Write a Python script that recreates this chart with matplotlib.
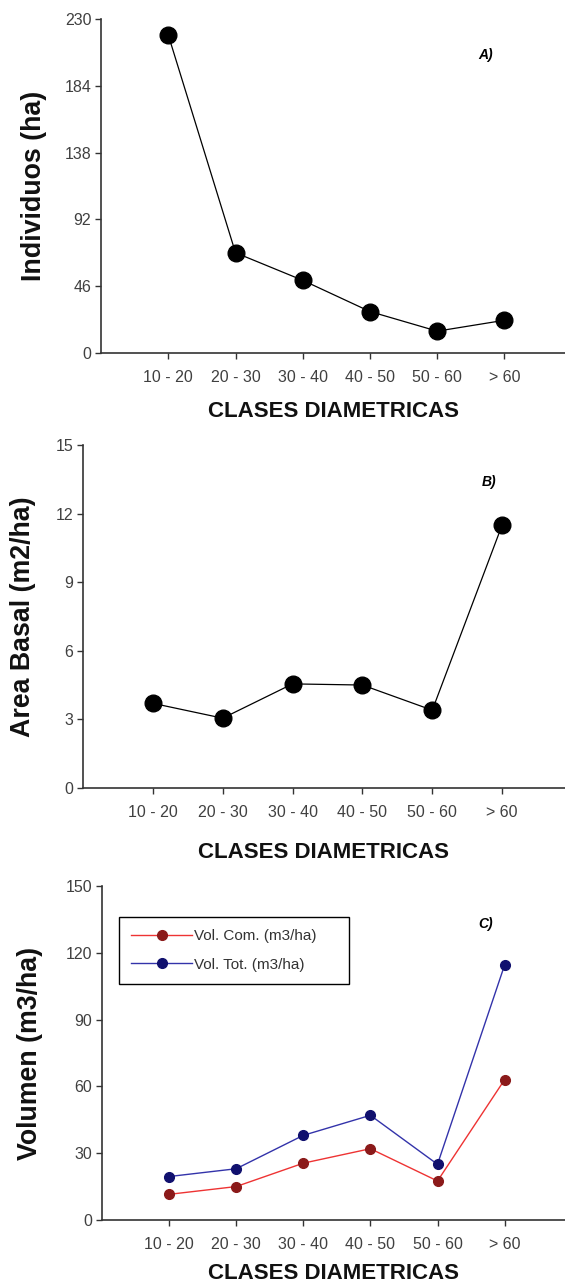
import matplotlib
matplotlib.use('Agg')
import matplotlib.pyplot as plt
import numpy as np

plt.rcParams['font.family'] = ['Liberation Sans', 'DejaVu Sans']

clases = ['10 - 20', '20 - 30', '30 - 40', '40 - 50', '50 - 60', '> 60']
individuos = [219, 69, 50, 28.5, 15, 22.5]
area_basal = [3.7, 3.05, 4.55, 4.5, 3.4, 11.5]
vol_com = [11.5, 15, 25.5, 32, 17.5, 63]
vol_tot = [19.5, 23, 38, 47, 25, 114.5]

ticks_a = [0, 46, 92, 138, 184, 230]
ticks_b = [0, 3, 6, 9, 12, 15]
ticks_c = [0, 30, 60, 90, 120, 150]

x = np.arange(1, len(clases) + 1)
axis_col = '#333333'
tick_col = '#404040'

fig = plt.figure(figsize=(5.65, 12.82), dpi=100)
ax_a = fig.add_axes([0.1788, 0.7247, 0.8212, 0.2605])
ax_b = fig.add_axes([0.1469, 0.3854, 0.8531, 0.2675])
ax_c = fig.add_axes([0.1805, 0.0484, 0.8195, 0.2605])


def style(ax, yticks, ylabel, label_x, xpad):
    ax.set_xlim(0, 6.9)
    ax.set_ylim(yticks[0], yticks[-1])
    ax.set_yticks(yticks)
    ax.set_xticks(x)
    ax.set_xticklabels(clases)
    for s in ['top', 'right']:
        ax.spines[s].set_visible(False)
    for s in ['left', 'bottom']:
        ax.spines[s].set_color(axis_col)
        ax.spines[s].set_linewidth(1.2)
    ax.tick_params(axis='both', direction='out', length=4, width=1, color=axis_col,
                   labelsize=11.5, labelcolor=tick_col, pad=3)
    ax.tick_params(axis='x', pad=8)
    ax.set_xlabel('CLASES DIAMETRICAS', fontsize=16, fontweight='bold', color='#111111', labelpad=xpad)
    ax.set_ylabel(ylabel, fontsize=19.3, fontweight='bold', color='#111111')
    ax.yaxis.set_label_coords(label_x, 0.5)


# A) individuos
ax_a.plot(x, individuos, color='black', lw=0.9, marker='o', ms=12, mfc='black', mec='black', clip_on=False)
style(ax_a, ticks_a, 'Individuos (ha)', -0.116, 12)
ax_a.text(5.72, 205, 'A)', fontsize=10, fontweight='bold', fontstyle='italic', ha='center', va='center')

# B) area basal
ax_b.plot(x, area_basal, color='black', lw=0.9, marker='o', ms=12, mfc='black', mec='black', clip_on=False)
style(ax_b, ticks_b, 'Area Basal (m2/ha)', -0.098, 16)
ax_b.text(5.81, 13.4, 'B)', fontsize=10, fontweight='bold', fontstyle='italic', ha='center', va='center')

# C) volumen
ax_c.plot(x, vol_com, color='#ee3333', lw=1.0, marker='o', ms=7, mfc='#8b1a1a', mec='#8b1a1a',
          label='Vol. Com. (m3/ha)')
ax_c.plot(x, vol_tot, color='#3333aa', lw=1.0, marker='o', ms=7, mfc='#10106e', mec='#10106e',
          label='Vol. Tot. (m3/ha)')
style(ax_c, ticks_c, 'Volumen (m3/ha)', -0.127, 8)
ax_c.text(5.72, 133, 'C)', fontsize=10, fontweight='bold', fontstyle='italic', ha='center', va='center')
leg = ax_c.legend(loc='upper left', bbox_to_anchor=(0.037, 0.907, 0.497, 0.0), mode='expand',
                  borderaxespad=0, fancybox=False, edgecolor='black', fontsize=11, handlelength=4.0,
                  handletextpad=0.1, borderpad=0.8, labelspacing=0.95, framealpha=1)
leg.get_frame().set_linewidth(1.0)
for t in leg.get_texts():
    t.set_color('#333333')

fig.savefig('out.png', dpi=100)
